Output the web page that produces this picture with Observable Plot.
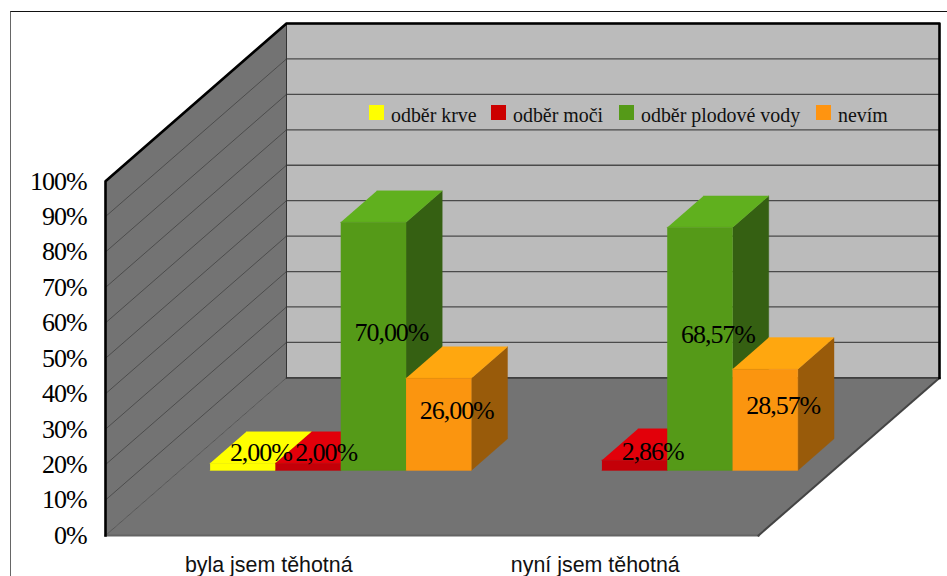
<!DOCTYPE html>
<html lang="cs">
<head>
<meta charset="utf-8">
<title>Odběr při vyšetření</title>
<script src="https://cdn.jsdelivr.net/npm/d3@7"></script>
<script src="https://cdn.jsdelivr.net/npm/@observablehq/plot@0.6"></script>
<style>
  html, body { margin: 0; padding: 0; background: #fff; overflow: hidden; }
  #chart { position: relative; width: 947px; height: 576px; overflow: hidden; }
  #chart svg { display: block; }
  #chart svg [font-family="Liberation Serif"] { letter-spacing: -1.05px; }
  .outline { position: absolute; left: 10px; top: 11px; width: 960px; height: 600px;
             border-left: 1.5px solid #666; border-top: 1.5px solid #111; pointer-events: none; }
  .key { position: absolute; top: 105px; width: 15px; height: 15px; }
  .key-label { position: absolute; top: 103px; font: 19.9px/24px "Liberation Serif", serif; color: #111; white-space: nowrap; }
</style>
</head>
<body>
<div id="chart"></div>
<script>
// Answers per group, in percent
const categories = ["byla jsem těhotná", "nyní jsem těhotná"];
const seriesNames = ["odběr krve", "odběr moči", "odběr plodové vody", "nevím"];
const krev = [2, 0];
const moc = [2, 2.86];
const plodovaVoda = [70, 68.57];
const nevim = [26, 28.57];
const seriesValues = [krev, moc, plodovaVoda, nevim];
const yTicks = [0, 10, 20, 30, 40, 50, 60, 70, 80, 90, 100];

// Shades of each series: front, top and side face of a box
const shades = [
  {front: "#ffff00", top: "#ffff00", side: "#999900", key: "#ffff00"},
  {front: "#c40008", top: "#e2000a", side: "#7a0005", key: "#cc0000"},
  {front: "#559a18", top: "#60b01e", side: "#356012", key: "#559a18"},
  {front: "#fb950f", top: "#ffa70f", side: "#995b0a", key: "#ff9410"}
];

// Oblique projection: a unit of depth shifts a point right (in categories) and up (in percent)
const shiftX = 181 / 326.5;
const shiftY = 44.5;
const project = (x, y, z) => ({px: x + z * shiftX, py: y + z * shiftY});

const groupOffset = 0.0915;
const barWidth = 0.2;
const barFront = 0.413;
const barDepth = 0.2;

// Faces are collected as closed polygons, painted in order
const faces = [];
const addFace = (fill, corners) => {
  const id = faces.length ? faces[faces.length - 1].id + 1 : 0;
  for (const [x, y, z] of corners) faces.push({id, fill, ...project(x, y, z)});
};

const zFar = barFront + barDepth;
const labels = [];
categories.forEach((_, c) => {
  seriesValues.forEach((values, s) => {
    const v = values[c];
    if (!v) return;
    const x0 = c + groupOffset + s * barWidth;
    const x1 = x0 + barWidth;
    const shade = shades[s];
    addFace(shade.side, [[x1, 0, barFront], [x1, 0, zFar], [x1, v, zFar], [x1, v, barFront]]);
    addFace(shade.top, [[x0, v, barFront], [x1, v, barFront], [x1, v, zFar], [x0, v, zFar]]);
    addFace(shade.front, [[x0, 0, barFront], [x1, 0, barFront], [x1, v, barFront], [x0, v, barFront]]);
    labels.push({
      text: v.toFixed(2).replace(".", ",") + "%",
      ...project((x0 + x1) / 2, v / 2, barFront + barDepth / 2)
    });
  });
});

// Walls and floor of the box the bars stand in
const n = categories.length;
const polygon = (corners) => corners.map(([x, y, z]) => project(x, y, z));
const floor = polygon([[0, 0, 0], [n, 0, 0], [n, 0, 1], [0, 0, 1]]);
const sideWall = polygon([[0, 0, 0], [0, 0, 1], [0, 100, 1], [0, 100, 0]]);
const backWall = polygon([[0, 0, 1], [n, 0, 1], [n, 100, 1], [0, 100, 1]]);
const gridDiagonals = yTicks.map((t) => polygon([[0, t, 0], [0, t, 1]]));
const gridBack = yTicks.map((t) => polygon([[0, t, 1], [n, t, 1]]));

const xy = {x: "px", y: "py"};
const edge = (points, stroke, strokeWidth) =>
  Plot.line(points, {...xy, stroke, strokeWidth, strokeLinecap: "square"});

const plot = Plot.plot({
  width: 947,
  height: 576,
  marginLeft: 105,
  marginRight: 8,
  marginTop: 23,
  marginBottom: 41,
  x: {domain: [0, n + shiftX], axis: null},
  y: {domain: [0, 100 + shiftY], axis: null},
  color: {type: "identity"},
  marks: [
    Plot.line(backWall, {...xy, fill: "#bbbbbb", stroke: "none"}),
    Plot.line(sideWall, {...xy, fill: "#737373", stroke: "none"}),
    Plot.line(floor, {...xy, fill: "#737373", stroke: "none"}),
    ...gridDiagonals.map((g) => edge(g, "#3c3c3c", 0.7)),
    ...gridBack.map((g) => edge(g, "#4a4a4a", 1.3)),
    edge(polygon([[0, 0, 1], [0, 100, 1]]), "#333", 1),
    edge(polygon([[0, 0, 1], [n, 0, 1]]), "#333", 1.2),
    edge(polygon([[0, 0, 0], [n, 0, 0]]), "#646464", 2),
    edge(polygon([[n, 0, 0], [n, 0, 1]]), "#444", 2),
    edge(polygon([[0, 0, 0], [0, 100, 0], [0, 100, 1], [n, 100, 1], [n, 0, 1]]), "#000", 2.6),
    Plot.line(faces, {...xy, z: "id", fill: "fill", stroke: "fill", strokeWidth: 0.4}),
    Plot.text(labels, {
      ...xy, text: "text", dy: 2, fill: "#000",
      fontFamily: "Liberation Serif", fontSize: 26
    }),
    Plot.axisY({
      ticks: yTicks, tickFormat: (d) => d + "%", tickSize: 0, tickPadding: 19, label: null,
      fontFamily: "Liberation Serif", fontSize: 26, fill: "#000"
    }),
    Plot.axisX({
      ticks: categories.map((_, i) => i + 0.5), tickFormat: (d) => categories[d - 0.5],
      tickSize: 0, tickPadding: 21, label: null,
      fontFamily: "Liberation Sans", fontSize: 21.4, fill: "#111"
    })
  ]
});

const chart = document.getElementById("chart");
chart.append(plot);

const outline = document.createElement("div");
outline.className = "outline";
chart.append(outline);

// Legend sits over the back wall
const keyLeft = [369, 491, 619, 816];
seriesNames.forEach((name, i) => {
  const key = document.createElement("div");
  key.className = "key";
  key.style.left = keyLeft[i] + "px";
  key.style.background = shades[i].key;
  const label = document.createElement("div");
  label.className = "key-label";
  label.style.left = keyLeft[i] + 22 + "px";
  label.textContent = name;
  chart.append(key, label);
});
</script>
</body>
</html>
